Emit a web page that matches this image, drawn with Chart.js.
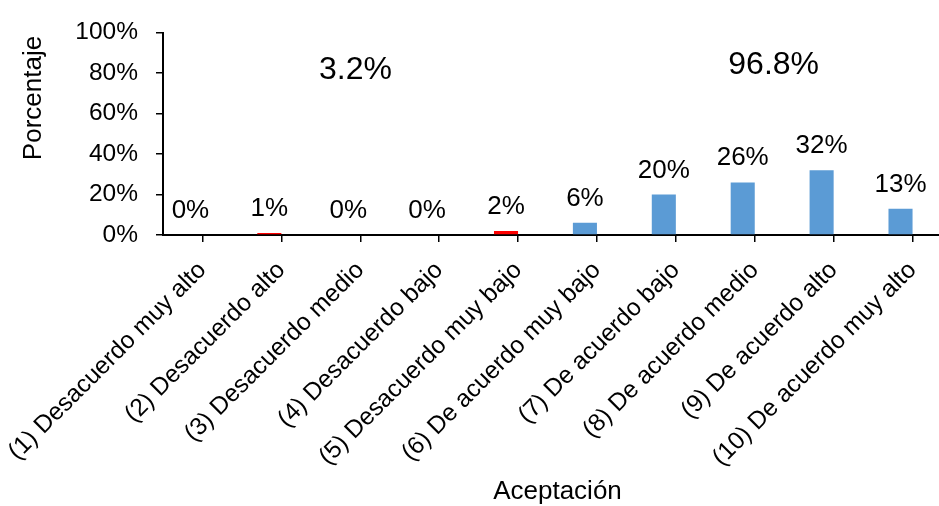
<!DOCTYPE html>
<html>
<head>
<meta charset="utf-8">
<script src="https://cdn.jsdelivr.net/npm/chart.js@4/dist/chart.umd.min.js"></script>
<style>
  html, body { margin: 0; padding: 0; background: #fff; overflow: hidden; }
  canvas { display: block; }
</style>
</head>
<body>
<canvas id="chart" width="960" height="506" style="width:960px;height:506px"></canvas>
<script>
// Acceptance levels (x categories)
const categories = [
  '(1) Desacuerdo muy alto',
  '(2) Desacuerdo alto',
  '(3) Desacuerdo medio',
  '(4) Desacuerdo bajo',
  '(5) Desacuerdo muy bajo',
  '(6) De acuerdo muy bajo',
  '(7) De acuerdo bajo',
  '(8) De acuerdo medio',
  '(9) De acuerdo alto',
  '(10) De acuerdo muy alto'
];
// Share of answers per level, in percent
const percentages = [0, 1, 0, 0, 2, 6, 20, 26, 32, 13];
// Number of leading "Desacuerdo" levels
const disagreeLevels = 5;
// Totals for the disagreement and agreement groups
const groupTotals = ['3.2%', '96.8%'];
// Y axis ticks (percent)
const yTicks = [0, 20, 40, 60, 80, 100];

const FONT = "'Liberation Sans', Arial, sans-serif";
const RED = '#FF0000';
const BLUE = '#5B9BD5';

// Value labels above each bar
const valueLabels = {
  id: 'valueLabels',
  afterDatasetsDraw(chart) {
    const ctx = chart.ctx;
    const meta = chart.getDatasetMeta(0);
    ctx.save();
    ctx.font = '26px ' + FONT;
    ctx.fillStyle = '#000';
    ctx.textAlign = 'center';
    ctx.textBaseline = 'alphabetic';
    meta.data.forEach((bar, i) => {
      const v = percentages[i];
      ctx.fillText(Math.round(v) + '%', bar.x, bar.y - 17);
    });
    ctx.restore();
  }
};

// Group totals and the vertical axis title
const extraText = {
  id: 'extraText',
  afterDraw(chart) {
    const ctx = chart.ctx;
    const x = chart.scales.x, y = chart.scales.y;
    ctx.save();
    ctx.fillStyle = '#000';
    ctx.textAlign = 'center';
    ctx.textBaseline = 'middle';
    ctx.font = '32px ' + FONT;
    ctx.fillText(groupTotals[0], x.getPixelForValue(1.94), y.getPixelForValue(81.5));
    ctx.fillText(groupTotals[1], x.getPixelForValue(7.24), y.getPixelForValue(83.8));
    // "Porcentaje" axis title
    ctx.font = '26px ' + FONT;
    ctx.translate(34, 98);
    ctx.rotate(-Math.PI / 2);
    ctx.fillText('Porcentaje', 0, 0);
    ctx.restore();
  }
};

new Chart(document.getElementById('chart'), {
  type: 'bar',
  data: {
    labels: categories,
    datasets: [
      {
        data: percentages,
        backgroundColor: percentages.map((_, i) => i < disagreeLevels ? RED : BLUE),
        borderWidth: 0,
        categoryPercentage: 0.61,
        barPercentage: 1
      },
      {
        data: categories.map(() => null),
        backgroundColor: 'rgba(0,0,0,0)',
        categoryPercentage: 0.61,
        barPercentage: 1
      }
    ]
  },
  options: {
    responsive: false,
    animation: false,
    devicePixelRatio: 1,
    layout: { padding: { top: 26, right: 8, left: 0, bottom: 0 } },
    plugins: {
      legend: { display: false },
      tooltip: { enabled: false }
    },
    scales: {
      x: {
        offset: true,
        grid: {
          offset: false,
          drawOnChartArea: false,
          drawTicks: true,
          tickLength: 7,
          color: '#000',
          lineWidth: 1.5
        },
        border: { display: true, color: '#000', width: 2 },
        ticks: {
          autoSkip: false,
          minRotation: 45,
          maxRotation: 45,
          padding: 14,
          color: '#000',
          font: { family: FONT, size: 24.5 }
        },
        title: {
          display: true,
          text: 'Aceptación',
          color: '#000',
          font: { family: FONT, size: 26, lineHeight: 1 },
          padding: { top: 0, bottom: 1 }
        },
        afterFit(scale) {
          scale.height = 271;
          scale.paddingLeft = 0;
          scale.paddingRight = 0;
        }
      },
      y: {
        min: 0,
        max: 100,
        afterBuildTicks(scale) {
          scale.ticks = yTicks.map(v => ({ value: v }));
        },
        grid: {
          drawOnChartArea: false,
          drawTicks: true,
          tickLength: 7,
          color: '#000',
          lineWidth: 1.5
        },
        border: { display: true, color: '#000', width: 2 },
        ticks: {
          padding: 18,
          color: '#000',
          font: { family: FONT, size: 24.5 },
          callback: v => v + '%'
        },
        afterFit(scale) {
          scale.width = 163;
        }
      }
    }
  },
  plugins: [valueLabels, extraText]
});
</script>
</body>
</html>
